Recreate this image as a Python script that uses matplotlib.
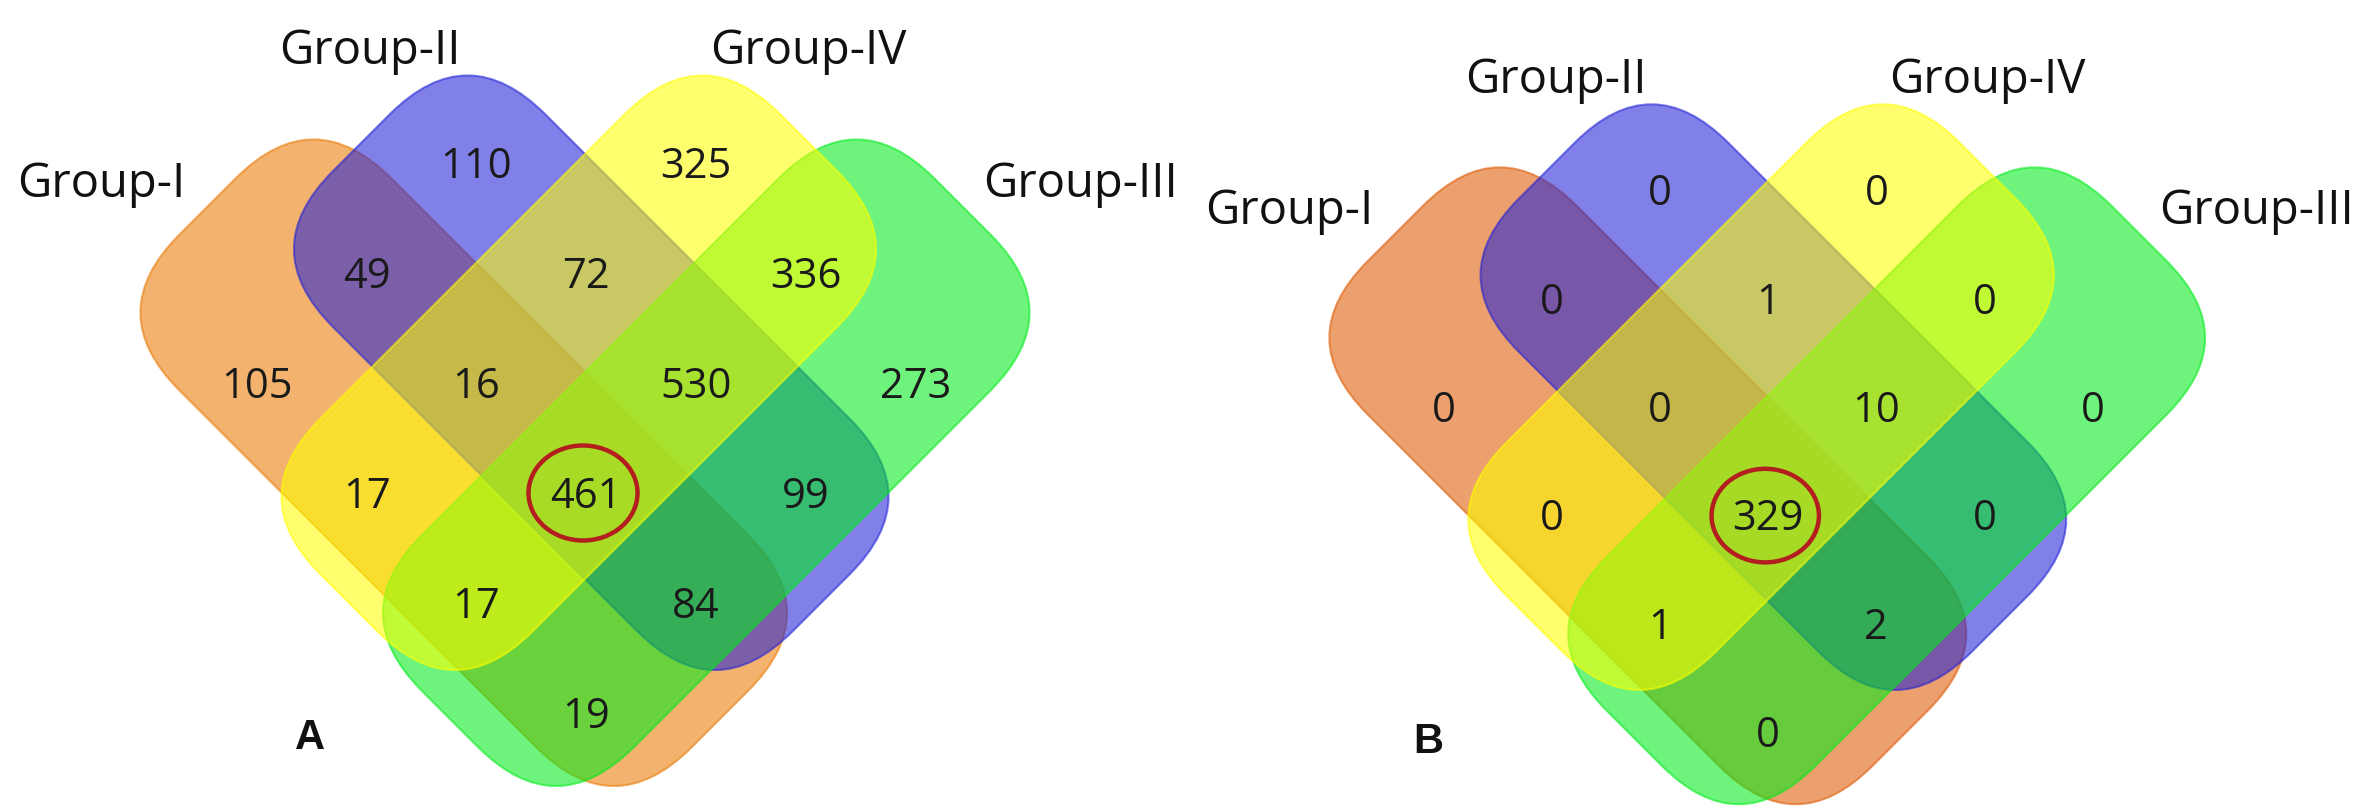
import numpy as np
import matplotlib
matplotlib.use("Agg")
import matplotlib.pyplot as plt
from matplotlib.patches import FancyBboxPatch, Ellipse
from matplotlib.transforms import Affine2D

plt.rcParams['font.family'] = ['Open Sans', 'DejaVu Sans']

# set names and region counts (order of regions is the same for both panels)
groups = ["Group-I", "Group-II", "Group-IV", "Group-III"]
regions = ["I", "II", "IV", "III", "I&II", "II&IV", "IV&III", "I&IV", "II&III",
           "I&III", "I&II&IV", "II&IV&III", "I&IV&III", "I&II&III", "all"]
counts_a = [105, 110, 325, 273, 49, 72, 336, 17, 99, 19, 16, 530, 17, 84, 461]
counts_b = [0, 0, 0, 0, 0, 1, 0, 0, 0, 0, 0, 10, 1, 2, 329]
panel_tags = ["A", "B"]

# diamond grid cell (column, row) of every region
cells = {"I": (0, 2), "II": (2, 0), "IV": (4, 0), "III": (6, 2),
         "I&II": (1, 1), "II&IV": (3, 1), "IV&III": (5, 1), "I&IV": (1, 3),
         "II&III": (5, 3), "I&III": (3, 5), "I&II&IV": (2, 2), "II&IV&III": (4, 2),
         "I&IV&III": (2, 4), "I&II&III": (4, 4), "all": (3, 3)}

# rounded rectangles in rotated coords s = x+y, d = x-y (pixel units of panel A)
shapes = {"Group-I": ((415, 1440), (-212, 212)),
          "Group-II": ((505, 1425), (5, 430)),
          "Group-IV": ((740, 1165), (-255, 665)),
          "Group-III": ((958, 1382), (-270, 755))}
draw_order = ["Group-I", "Group-II", "Group-III", "Group-IV"]
colors_a = {"Group-I": "#EA7800", "Group-II": "#2020D7",
            "Group-IV": "#FFFF00", "Group-III": "#00EC19"}
colors_b = dict(colors_a, **{"Group-I": "#DE5800"})

label_pos = {"Group-I": (185, 197, "right"), "Group-II": (370, 64, "center"),
             "Group-IV": (808, 64, "center"), "Group-III": (983, 197, "left")}

radius = 110
fig = plt.figure(figsize=(23.67, 8.12), dpi=100)
ax = fig.add_axes([0, 0, 1, 1])
ax.set_xlim(0, 2367)
ax.set_ylim(812, 0)
ax.axis('off')

panels = [(counts_a, colors_a, 1.0, 0, 0, (310, 738)),
          (counts_b, colors_b, 0.985, 1191, 30, (1428, 742))]

for (counts, cols, k, ox, oy, tagpos), tag in zip(panels, panel_tags):
    place = Affine2D().scale(k).translate(ox, oy)
    rot = Affine2D.from_values(0.5, 0.5, 0.5, -0.5, 0, 0)
    for g in draw_order:
        (s0, s1), (d0, d1) = shapes[g]
        p = FancyBboxPatch((s0, d0), s1 - s0, d1 - d0,
                           boxstyle="round,pad=0,rounding_size=%f" % (radius * np.sqrt(2)),
                           facecolor=cols[g], alpha=0.57, edgecolor=cols[g],
                           linewidth=1.5, transform=rot + place + ax.transData)
        ax.add_patch(p)

    for name, val in zip(regions, counts):
        c, r = cells[name]
        x = 257 + c * 109.7
        y = 163 + r * 110 + 15
        xx, yy = place.transform((x, y))
        ax.text(xx, yy, str(val), fontsize=30, ha='center', va='baseline', color='#1a1a1a')

    cx, cy = place.transform((583, 494))
    ax.add_patch(Ellipse((cx, cy), 109 * k, 95 * k, fill=False,
                         edgecolor='#B31E1E', linewidth=3.2))

    for g in groups:
        lx, ly, ha = label_pos[g]
        xx, yy = place.transform((lx, ly))
        ax.text(xx, yy, g, fontsize=34, ha=ha, va='baseline', color='#111111')

    ax.text(tagpos[0], tagpos[1], tag, fontsize=30, fontweight='bold',
            family='Liberation Sans', ha='center', va='center', color='#111111')

fig.savefig("out.png", dpi=100)
